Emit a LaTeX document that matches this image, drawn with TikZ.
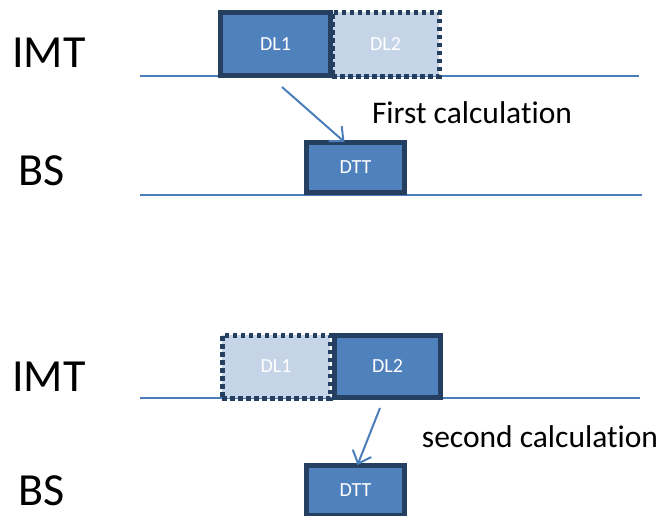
\documentclass[tikz,border=0pt]{standalone}
\usepackage{fontspec}
\setmainfont[Ligatures=NoCommon]{Carlito}
\usetikzlibrary{arrows.meta}
\definecolor{boxblue}{HTML}{4F81BD}
\definecolor{boxdark}{HTML}{243F60}
\definecolor{boxlight}{HTML}{C6D4E8}
\definecolor{lineblue}{HTML}{4A7EBB}
\tikzset{
  solidbox/.style={draw=boxdark, line width=5pt, fill=boxblue, text=white, font=\fontsize{20}{22}\selectfont, inner sep=0pt},
  dotbox/.style={draw=boxdark, line width=5pt, dash pattern=on 4.5pt off 3.5pt, fill=boxlight, text=white, font=\fontsize{20}{22}\selectfont, inner sep=0pt},
  timeline/.style={draw=lineblue, line width=2pt},
  arr/.style={draw=lineblue, line width=2pt, -{Straight Barb[length=11pt,width=20pt,line width=2pt]}},
  biglabel/.style={font=\fontsize{46}{50}\selectfont, inner sep=0pt, text depth=0pt},
  calclabel/.style={font=\fontsize{31.5}{34}\selectfont, inner sep=0pt}
}
\begin{document}
\begin{tikzpicture}[x=1pt,y=-1pt]
\useasboundingbox (0,0) rectangle (662,515);
\clip (0,0) rectangle (662,515);
% labels
\node[biglabel] (imt1) at (49,53) {IMT};
\node[biglabel] (bs1) at (42,171) {BS};
\node[biglabel] (imt2) at (49,377) {IMT};
\node[biglabel] (bs2) at (42,491) {BS};
% timelines
\coordinate (l1a) at (140,76); \coordinate (l1b) at (639,76);
\coordinate (l2a) at (140,195); \coordinate (l2b) at (642,195);
\coordinate (l3a) at (140,398); \coordinate (l3b) at (640,398);
\draw[timeline] (l1a) -- (l1b);
\draw[timeline] (l2a) -- (l2b);
\draw[timeline] (l3a) -- (l3b);
% top scenario
\node[dotbox, minimum width=107pt, minimum height=64pt] (dl2a) at (385.5,44) {DL2};
\node[solidbox, minimum width=110pt, minimum height=63pt] (dl1a) at (275.5,44) {DL1};
\node[solidbox, minimum width=98pt, minimum height=50pt] (dtt1) at (355.5,167.5) {DTT};
\coordinate (s1) at (282,87);
\draw[arr] (s1) -- ([xshift=-11pt,yshift=-2pt]dtt1.north);
\node[calclabel] (calc1) at (472,113) {First calculation};
% bottom scenario
\node[dotbox, minimum width=108pt, minimum height=63pt] (dl1b) at (276,366.5) {DL1};
\node[solidbox, minimum width=106pt, minimum height=62pt] (dl2b) at (387.5,366.5) {DL2};
\node[solidbox, minimum width=98pt, minimum height=50pt] (dtt2) at (355.5,490.5) {DTT};
\coordinate (s2) at (380,408);
\draw[arr] (s2) -- ([xshift=2pt,yshift=-2pt]dtt2.north);
\node[calclabel] (calc2) at (540,437) {second calculation};
\end{tikzpicture}
\end{document}
